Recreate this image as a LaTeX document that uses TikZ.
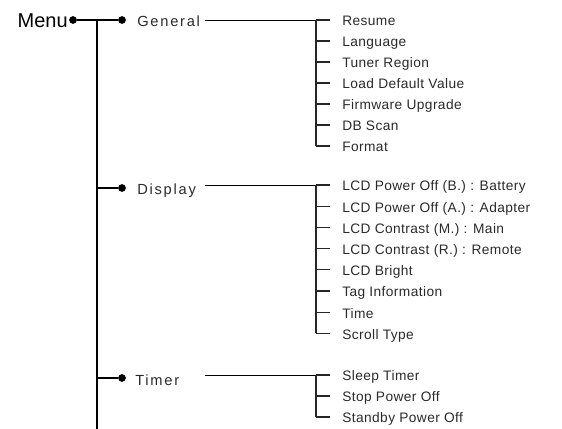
\documentclass[tikz,border=0pt]{standalone}
\usepackage{fontspec}
\setmainfont{Liberation Sans}
\newfontfamily\itemfont[LetterSpace=3]{Liberation Sans}
\newfontfamily\headfont[LetterSpace=12]{Liberation Sans}
\definecolor{txt}{HTML}{2A2A2A}
\definecolor{thin}{HTML}{555555}
\begin{document}
\begin{tikzpicture}[x=0.75pt,y=-0.75pt,
  itemlabel/.style={anchor=west,inner sep=0pt,text=txt,
    font=\itemfont\fontsize{10.3}{12}\selectfont,text height=7.4pt,text depth=0pt},
  headlabel/.style={anchor=west,inner sep=0pt,text=txt,
    font=\headfont\fontsize{11}{13}\selectfont,text height=7.9pt,text depth=0pt},
  rootlabel/.style={anchor=east,inner sep=0pt,text=black,
    font=\fontsize{15}{18}\selectfont,text height=10.7pt,text depth=0pt},
  dotmark/.style={circle,fill=black,inner sep=0pt,minimum size=5.8pt},
  mainline/.style={line width=1.2pt,black},
  leveltwo/.style={line width=0.7pt,thin},
  subline/.style={line width=0.9pt,black!85},
]
\useasboundingbox (0,0) rectangle (562,429);

% root
\node[rootlabel] (menu) at (68,20) {Menu};
\node[dotmark] (mdot) at (73,20) {};
\coordinate (trunkTop) at (97,20);
\coordinate (trunkBot) at (97,429);
\coordinate (trunkD) at (97,188);
\coordinate (trunkT) at (97,378);

% level one
\node[dotmark] (gdot) at (122,20) {};
\node[headlabel] (gen) at (137,21) {General};
\node[dotmark] (ddot) at (122,188) {};
\node[headlabel] (disp) at (137,189) {Display};
\node[dotmark] (tdot) at (122,378) {};
\node[headlabel] (tim) at (135,380) {Timer};

\draw[mainline] (mdot) -- (gdot);
\draw[mainline] (trunkTop) -- (trunkBot);
\draw[mainline] (trunkD) -- (ddot);
\draw[mainline] (trunkT) -- (tdot);

% General sub list
\coordinate (gs) at (205,20);
\foreach \t [count=\i] in {{Resume},{Language},{Tuner Region},{Load Default Value},{Firmware Upgrade},{DB Scan},{Format}}{
  \node[itemlabel] (g\i) at (342,{21+21*(\i-1)}) {\t};
  \coordinate (gt\i) at (316,{20+21*(\i-1)});
  \draw[subline] (gt\i) -- ([xshift=-9pt]g\i.west |- gt\i);
}
\draw[leveltwo] (gs) -- (gt1);
\draw[subline] (gt1) -- (gt7);

% Display sub list
\coordinate (ds) at (205,185);
\foreach \t [count=\i] in {{LCD Power Off (B.) : Battery},{LCD Power Off (A.) : Adapter},{LCD Contrast (M.) : Main},{LCD Contrast (R.) : Remote},{LCD Bright},{Tag Information},{Time},{Scroll Type}}{
  \node[itemlabel] (d\i) at (342,{186+21.2*(\i-1)}) {\t};
  \coordinate (dt\i) at (316,{185+21.2*(\i-1)});
  \draw[subline] (dt\i) -- ([xshift=-9pt]d\i.west |- dt\i);
}
\draw[leveltwo] (ds) -- (dt1);
\draw[subline] (dt1) -- (dt8);

% Timer sub list
\coordinate (ts) at (205,375);
\foreach \t [count=\i] in {{Sleep Timer},{Stop Power Off},{Standby Power Off}}{
  \node[itemlabel] (t\i) at (342,{376+21*(\i-1)}) {\t};
  \coordinate (tt\i) at (316,{375+21*(\i-1)});
  \draw[subline] (tt\i) -- ([xshift=-9pt]t\i.west |- tt\i);
}
\draw[leveltwo] (ts) -- (tt1);
\draw[subline] (tt1) -- (tt3);
\end{tikzpicture}
\end{document}
